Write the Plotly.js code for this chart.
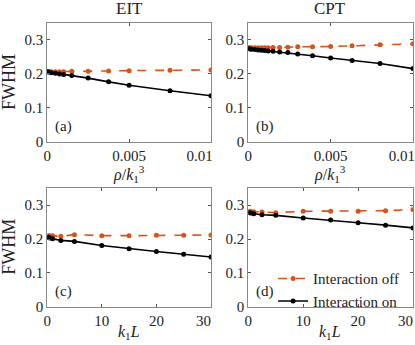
<!DOCTYPE html>
<html>
<head>
<meta charset="utf-8">
<script src="https://cdn.plot.ly/plotly-3.0.1.min.js"></script>
<style>
  html, body { margin: 0; padding: 0; background: #fff; }
  #plot { width: 415px; height: 345px; }
</style>
</head>
<body>
<div id="plot"></div>
<script>
// x values
var rhoEIT = [0, 0.0001, 0.00025, 0.0005, 0.00075, 0.001, 0.0015, 0.0025, 0.00375, 0.005, 0.0075, 0.01];
var rhoCPT = [0, 0.0001, 0.0002, 0.0004, 0.0006, 0.0008, 0.001, 0.0012, 0.0015, 0.0019, 0.0024, 0.003, 0.0039, 0.005, 0.0063, 0.008, 0.01];
var lenK = [0.25, 0.5, 1, 2.5, 5, 10, 15, 20, 25, 30];

// FWHM values
var eitRhoOff = [0.206, 0.206, 0.206, 0.206, 0.206, 0.206, 0.207, 0.207, 0.208, 0.209, 0.210, 0.211];
var eitRhoOn  = [0.206, 0.205, 0.203, 0.201, 0.199, 0.198, 0.195, 0.187, 0.176, 0.166, 0.150, 0.135];
var cptRhoOff = [0.276, 0.276, 0.276, 0.276, 0.276, 0.276, 0.276, 0.276, 0.277, 0.277, 0.278, 0.279, 0.279, 0.280, 0.282, 0.285, 0.288];
var cptRhoOn  = [0.274, 0.273, 0.272, 0.271, 0.270, 0.269, 0.268, 0.267, 0.266, 0.264, 0.262, 0.258, 0.253, 0.246, 0.239, 0.230, 0.215];
var eitLenOff = [0.210, 0.210, 0.210, 0.208, 0.213, 0.210, 0.210, 0.211, 0.211, 0.212];
var eitLenOn  = [0.205, 0.203, 0.201, 0.196, 0.193, 0.181, 0.171, 0.163, 0.155, 0.147];
var cptLenOff = [0.282, 0.281, 0.281, 0.280, 0.278, 0.282, 0.282, 0.282, 0.284, 0.287];
var cptLenOn  = [0.278, 0.277, 0.275, 0.272, 0.270, 0.262, 0.256, 0.248, 0.241, 0.233];

// ticks
var yTicks = [0, 0.1, 0.2, 0.3];
var yTickText = ["0", "0.1", "0.2", "0.3"];
var rhoTicks = [0, 0.005, 0.01];
var rhoTickText = ["0", "0.005", "0.01\u00a0\u00a0\u00a0\u00a0\u00a0\u00a0"];
var lenTicks = [0, 10, 20, 30];
var lenTickText = ["0", "10", "20", "30\u00a0\u00a0\u00a0\u00a0"];

var orange = "#D95319";
var serif = "Liberation Serif";

function offTrace(x, y, xa, ya, show) {
  return {
    x: x, y: y, xaxis: xa, yaxis: ya,
    type: "scatter", mode: "lines+markers",
    name: "Interaction off", showlegend: show,
    line: {color: orange, width: 1.6, dash: "dash"},
    marker: {color: orange, size: 5}
  };
}
function onTrace(x, y, xa, ya, show) {
  return {
    x: x, y: y, xaxis: xa, yaxis: ya,
    type: "scatter", mode: "lines+markers",
    name: "Interaction on", showlegend: show,
    line: {color: "black", width: 1.6},
    marker: {color: "black", size: 5}
  };
}

var data = [
  offTrace(rhoEIT, eitRhoOff, "x", "y", false),
  onTrace(rhoEIT, eitRhoOn, "x", "y", false),
  offTrace(rhoCPT, cptRhoOff, "x2", "y2", false),
  onTrace(rhoCPT, cptRhoOn, "x2", "y2", false),
  offTrace(lenK, eitLenOff, "x3", "y3", false),
  onTrace(lenK, eitLenOn, "x3", "y3", false),
  offTrace(lenK, cptLenOff, "x4", "y4", true),
  onTrace(lenK, cptLenOn, "x4", "y4", true)
];

function xAxis(dom, range, vals, text, anchor) {
  return {
    domain: dom, range: range, anchor: anchor,
    tickmode: "array", tickvals: vals, ticktext: text,
    ticks: "inside", ticklen: 3, tickcolor: "#555", mirror: "ticks",
    showline: true, linecolor: "#888", linewidth: 1,
    showgrid: false, zeroline: false, ticklabeloverflow: "allow",
    tickfont: {family: serif, size: 15, color: "#222"}
  };
}
function yAxis(dom, anchor) {
  return {
    domain: dom, range: [0, 0.35], anchor: anchor,
    tickmode: "array", tickvals: yTicks, ticktext: yTickText,
    ticks: "inside", ticklen: 3, tickcolor: "#555", mirror: "ticks",
    showline: true, linecolor: "#888", linewidth: 1,
    showgrid: false, zeroline: false,
    tickfont: {family: serif, size: 15, color: "#222"}
  };
}

var colLeft = [0.1137, 0.5084];
var colRight = [0.5983, 0.9952];
var rowTop = [0.5893, 0.9342];
var rowBottom = [0.1110, 0.4542];

function note(text, x, y, size) {
  return {text: text, xref: "paper", yref: "paper", x: x, y: y,
    showarrow: false, xanchor: "center", yanchor: "middle",
    font: {family: serif, size: size, color: "#222"}};
}

var layout = {
  width: 415, height: 345,
  margin: {l: 0, r: 0, t: 0, b: 0},
  paper_bgcolor: "white", plot_bgcolor: "white",
  font: {family: serif},
  xaxis: xAxis(colLeft, [0, 0.01], rhoTicks, rhoTickText, "y"),
  yaxis: yAxis(rowTop, "x"),
  xaxis2: xAxis(colRight, [0, 0.01], rhoTicks, rhoTickText, "y2"),
  yaxis2: yAxis(rowTop, "x2"),
  xaxis3: xAxis(colLeft, [0, 30], lenTicks, lenTickText, "y3"),
  yaxis3: yAxis(rowBottom, "x3"),
  xaxis4: xAxis(colRight, [0, 30], lenTicks, lenTickText, "y4"),
  yaxis4: yAxis(rowBottom, "x4"),
  showlegend: true,
  legend: {
    x: 0.658, y: 0.24, xanchor: "left", yanchor: "top",
    bgcolor: "rgba(0,0,0,0)", borderwidth: 0,
    font: {family: serif, size: 15, color: "#222"},
    tracegroupgap: 0, itemwidth: 30
  },
  annotations: [
    note("EIT", 0.311, 0.975, 17),
    note("CPT", 0.796, 0.975, 17),
    note("FWHM", 0.022, 0.763, 18),
    note("FWHM", 0.022, 0.285, 18),
    note("<i>ρ</i>/<i>k</i><sub>1</sub><sup>3</sup>", 0.311, 0.496, 16),
    note("<i>ρ</i>/<i>k</i><sub>1</sub><sup>3</sup>", 0.796, 0.496, 16),
    note("<i>k</i><sub>1</sub><i>L</i>", 0.311, 0.035, 16),
    note("<i>k</i><sub>1</sub><i>L</i>", 0.796, 0.035, 16),
    note("(a)", 0.153, 0.633, 15),
    note("(b)", 0.638, 0.633, 15),
    note("(c)", 0.153, 0.155, 15),
    note("(d)", 0.638, 0.155, 15)
  ]
};
layout.annotations[2].textangle = -90;
layout.annotations[3].textangle = -90;

Plotly.newPlot("plot", data, layout, {staticPlot: true});
</script>
</body>
</html>
